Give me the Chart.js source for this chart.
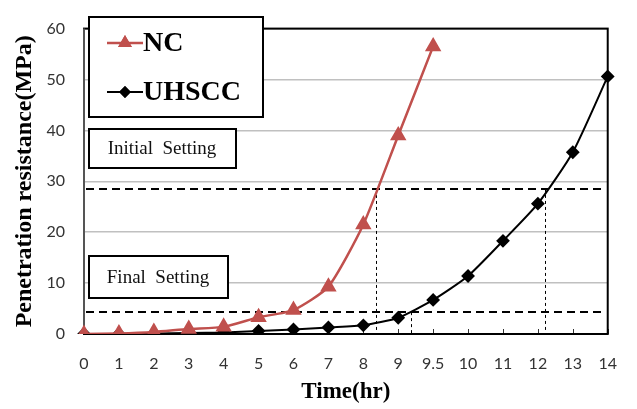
<!DOCTYPE html>
<html lang="en">
<head>
<meta charset="UTF-8">
<title>Penetration resistance</title>
<script src="https://cdn.jsdelivr.net/npm/chart.js@4.4.1/dist/chart.umd.min.js"></script>
<style>
  html, body { margin: 0; padding: 0; background: #fff; }
  #wrap { width: 637px; height: 409px; position: relative; }
</style>
</head>
<body>
<div id="wrap"><canvas id="chart" width="637" height="409"></canvas></div>
<script>
// time categories (hr) - equally spaced on the axis, like the original
const timeLabels = ['0', '1', '2', '3', '4', '5', '6', '7', '8', '9', '9.5', '10', '11', '12', '13', '14'];
// penetration resistance (MPa)
const ncValues = [0, 0.1, 0.4, 1.0, 1.4, 3.3, 4.7, 9.3, 21.5, 39, 56.5];
const uhsccValues = [0, 0, 0.1, 0.2, 0.3, 0.6, 0.9, 1.3, 1.7, 3.2, 6.7, 11.4, 18.3, 25.6, 35.7, 50.6];
// setting thresholds (MPa) and where each curve crosses them (category index)
const settingLevels = [28.5, 4.3];
const crossings = [
  { at: 8.36, level: 28.5 },
  { at: 9.36, level: 4.3 },
  { at: 13.21, level: 28.5 }
];

const serif = '"Liberation Serif", "Times New Roman", serif';

const overlay = {
  id: 'overlay',
  beforeDatasetsDraw(chart) {
    const { ctx, chartArea: a, scales: { x, y } } = chart;
    ctx.save();
    // vertical thin dashed lines
    ctx.strokeStyle = '#000';
    ctx.lineWidth = 1;
    ctx.setLineDash([3, 3]);
    crossings.forEach(c => {
      const px = Math.round(x.getPixelForValue(c.at)) + 0.5;
      ctx.beginPath();
      ctx.moveTo(px, y.getPixelForValue(c.level));
      ctx.lineTo(px, a.bottom);
      ctx.stroke();
    });
    // horizontal thick dashed lines
    ctx.lineWidth = 2;
    ctx.setLineDash([8, 5]);
    settingLevels.forEach(v => {
      const py = Math.round(y.getPixelForValue(v));
      ctx.beginPath();
      ctx.moveTo(a.left + 2, py);
      ctx.lineTo(a.right - 2, py);
      ctx.stroke();
    });
    ctx.setLineDash([]);
    // small tick marks on x axis
    ctx.strokeStyle = '#333';
    ctx.lineWidth = 1;
    timeLabels.forEach((t, i) => {
      const px = Math.round(x.getPixelForValue(i)) + 0.5;
      ctx.beginPath();
      ctx.moveTo(px, a.bottom);
      ctx.lineTo(px, a.bottom - 5);
      ctx.stroke();
    });
    // plot border
    ctx.lineWidth = 2;
    ctx.strokeStyle = '#000';
    ctx.strokeRect(a.left, a.top, a.right - a.left, a.bottom - a.top);
    ctx.strokeStyle = '#555';
    ctx.beginPath();
    ctx.moveTo(a.left, a.top);
    ctx.lineTo(a.left, a.bottom);
    ctx.stroke();
    ctx.restore();
  },
  afterDatasetsDraw(chart) {
    const { ctx } = chart;
    ctx.save();
    const box = (x0, y0, w, h) => {
      ctx.fillStyle = '#fff';
      ctx.fillRect(x0, y0, w, h);
      ctx.lineWidth = 2;
      ctx.strokeStyle = '#000';
      ctx.strokeRect(x0, y0, w, h);
    };
    // legend
    box(89, 17, 174, 100);
    const ds = chart.data.datasets;
    [[ds[0], 43, 'NC', 5.5], [ds[1], 92, 'UHSCC', 4.5]].forEach(([d, ly, label, r]) => {
      ctx.strokeStyle = d.borderColor;
      ctx.lineWidth = d.borderWidth;
      ctx.beginPath();
      ctx.moveTo(107, ly);
      ctx.lineTo(143, ly);
      ctx.stroke();
      Chart.helpers.drawPoint(ctx, {
        pointStyle: d.pointStyle, radius: r, borderWidth: 1, rotation: 0
      }, 125, ly);
      ctx.fillStyle = d.pointBackgroundColor;
      ctx.strokeStyle = d.pointBorderColor;
      ctx.fill();
      ctx.stroke();
      ctx.fillStyle = '#000';
      ctx.font = 'bold 28px ' + serif;
      ctx.textBaseline = 'middle';
      ctx.textAlign = 'left';
      ctx.fillText(label, 143, ly + 1);
    });
    // setting labels
    ctx.font = '19px ' + serif;
    ctx.textAlign = 'center';
    ctx.textBaseline = 'middle';
    box(89, 129, 147, 39);
    ctx.fillStyle = '#111';
    ctx.fillText('Initial  Setting', 162, 149);
    box(89, 256, 139, 42);
    ctx.fillStyle = '#111';
    ctx.fillText('Final  Setting', 158, 278);
    ctx.restore();
  }
};

new Chart(document.getElementById('chart'), {
  type: 'line',
  data: {
    labels: timeLabels,
    datasets: [
      {
        label: 'NC',
        data: ncValues,
        borderColor: '#C0504D',
        backgroundColor: '#C0504D',
        pointBackgroundColor: '#C0504D',
        pointBorderColor: '#C0504D',
        borderWidth: 2.5,
        pointStyle: 'triangle',
        pointRadius: 7,
        tension: 0.2
      },
      {
        label: 'UHSCC',
        data: uhsccValues,
        borderColor: '#000',
        backgroundColor: '#000',
        pointBackgroundColor: '#000',
        pointBorderColor: '#000',
        borderWidth: 2,
        pointStyle: 'rectRot',
        pointRadius: 5.5,
        tension: 0.2
      }
    ]
  },
  options: {
    responsive: false,
    animation: false,
    layout: { padding: { top: 13, right: 24, left: 0, bottom: 0 } },
    plugins: { legend: { display: false }, tooltip: { enabled: false } },
    scales: {
      x: {
        type: 'category',
        offset: false,
        grid: { display: false, drawTicks: false },
        border: { display: false },
        ticks: { color: '#333', font: { family: 'Lato', size: 16 }, padding: 20, maxRotation: 0, autoSkip: false },
        title: { display: true, text: 'Time(hr)', color: '#000', font: { family: serif, size: 23, weight: 'bold' }, padding: { top: 0, bottom: 3 } },
        afterFit: s => { s.height = 75; }
      },
      y: {
        min: 0,
        max: 60,
        ticks: { stepSize: 10, color: '#333', font: { family: 'Lato', size: 16 }, padding: 19 },
        grid: { color: '#c0c0c0', lineWidth: 1.5, drawTicks: false },
        border: { display: false },
        title: { display: true, text: 'Penetration resistance(MPa)', color: '#000', font: { family: serif, size: 24, weight: 'bold' }, padding: { top: 10, bottom: 0 } },
        afterFit: s => { s.width = 84; }
      }
    }
  },
  plugins: [overlay]
});
</script>
</body>
</html>
